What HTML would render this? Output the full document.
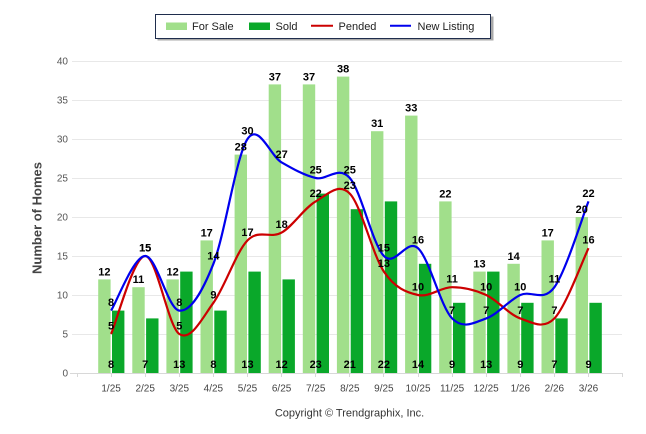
<!DOCTYPE html>
<html><head><meta charset="utf-8"><style>
html,body{margin:0;padding:0;background:#fff;}
svg{display:block;}
text{font-family:"Liberation Sans",Arial,sans-serif;}
.yl{font-size:10px;fill:#555;text-anchor:end;}
.xl{font-size:10px;fill:#444;text-anchor:middle;}
.lb{font-size:11px;font-weight:bold;fill:#000;text-anchor:middle;}
.lg{font-size:11px;fill:#222;}
</style></head><body>
<svg width="646" height="434" viewBox="0 0 646 434" xmlns="http://www.w3.org/2000/svg">
<rect width="646" height="434" fill="#fff"/>
<!-- legend -->
<rect x="157.5" y="16.5" width="336" height="24" fill="#a9a9a9"/>
<rect x="155.5" y="14.5" width="335" height="24" fill="#fff" stroke="#1f2d4d" stroke-width="1"/>
<rect x="166" y="22.5" width="21" height="7.5" fill="#a1df8b"/>
<text class="lg" x="192" y="30">For Sale</text>
<rect x="249" y="22.5" width="21" height="7.5" fill="#0aa82a"/>
<text class="lg" x="275.5" y="30">Sold</text>
<line x1="311" y1="25.8" x2="333" y2="25.8" stroke="#cc0000" stroke-width="2"/>
<text class="lg" x="338.5" y="30">Pended</text>
<line x1="390" y1="25.8" x2="411" y2="25.8" stroke="#0000ee" stroke-width="2"/>
<text class="lg" x="417.5" y="30">New Listing</text>
<!-- gridlines -->
<g stroke="#e8e8e8" stroke-width="1">
<line x1="72" y1="61.5" x2="622" y2="61.5"/>
<line x1="72" y1="100.5" x2="622" y2="100.5"/>
<line x1="72" y1="139.5" x2="622" y2="139.5"/>
<line x1="72" y1="178.5" x2="622" y2="178.5"/>
<line x1="72" y1="217.5" x2="622" y2="217.5"/>
<line x1="72" y1="256.5" x2="622" y2="256.5"/>
<line x1="72" y1="295.5" x2="622" y2="295.5"/>
<line x1="72" y1="334.5" x2="622" y2="334.5"/>
</g>
<line x1="70" y1="373.5" x2="623" y2="373.5" stroke="#d8d8d8" stroke-width="1"/>
<g stroke="#d8d8d8" stroke-width="1">
<line x1="77.5" y1="373" x2="77.5" y2="377"/>
<line x1="111.5" y1="373" x2="111.5" y2="377"/>
<line x1="145.5" y1="373" x2="145.5" y2="377"/>
<line x1="179.5" y1="373" x2="179.5" y2="377"/>
<line x1="213.5" y1="373" x2="213.5" y2="377"/>
<line x1="247.5" y1="373" x2="247.5" y2="377"/>
<line x1="281.5" y1="373" x2="281.5" y2="377"/>
<line x1="315.5" y1="373" x2="315.5" y2="377"/>
<line x1="349.5" y1="373" x2="349.5" y2="377"/>
<line x1="383.5" y1="373" x2="383.5" y2="377"/>
<line x1="418.5" y1="373" x2="418.5" y2="377"/>
<line x1="452.5" y1="373" x2="452.5" y2="377"/>
<line x1="486.5" y1="373" x2="486.5" y2="377"/>
<line x1="520.5" y1="373" x2="520.5" y2="377"/>
<line x1="554.5" y1="373" x2="554.5" y2="377"/>
<line x1="588.5" y1="373" x2="588.5" y2="377"/>
<line x1="622.5" y1="373" x2="622.5" y2="377"/>
</g>
<!-- y labels -->
<text class="yl" x="68" y="64.5">40</text>
<text class="yl" x="68" y="103.5">35</text>
<text class="yl" x="68" y="142.5">30</text>
<text class="yl" x="68" y="181.5">25</text>
<text class="yl" x="68" y="220.5">20</text>
<text class="yl" x="68" y="259.5">15</text>
<text class="yl" x="68" y="298.5">10</text>
<text class="yl" x="68" y="337.5">5</text>
<text class="yl" x="68" y="376.5">0</text>
<text x="41.5" y="218" transform="rotate(-90 41.5 218)" text-anchor="middle" style="font-size:13px;font-weight:bold;fill:#444;">Number of Homes</text>
<!-- For Sale bars -->
<g fill="#a1df8b">
<rect x="98.2" y="279.4" width="12.4" height="93.6"/>
<rect x="132.3" y="287.2" width="12.4" height="85.8"/>
<rect x="166.4" y="279.4" width="12.4" height="93.6"/>
<rect x="200.5" y="240.4" width="12.4" height="132.6"/>
<rect x="234.6" y="154.6" width="12.4" height="218.4"/>
<rect x="268.7" y="84.4" width="12.4" height="288.6"/>
<rect x="302.8" y="84.4" width="12.4" height="288.6"/>
<rect x="336.9" y="76.6" width="12.4" height="296.4"/>
<rect x="371.0" y="131.2" width="12.4" height="241.8"/>
<rect x="405.1" y="115.6" width="12.4" height="257.4"/>
<rect x="439.2" y="201.4" width="12.4" height="171.6"/>
<rect x="473.3" y="271.6" width="12.4" height="101.4"/>
<rect x="507.4" y="263.8" width="12.4" height="109.2"/>
<rect x="541.5" y="240.4" width="12.4" height="132.6"/>
<rect x="575.6" y="217" width="12.4" height="156"/>
</g>
<!-- Sold bars -->
<g fill="#0aa82a">
<rect x="112.0" y="310.6" width="12.4" height="62.4"/>
<rect x="146.1" y="318.4" width="12.4" height="54.6"/>
<rect x="180.2" y="271.6" width="12.4" height="101.4"/>
<rect x="214.3" y="310.6" width="12.4" height="62.4"/>
<rect x="248.4" y="271.6" width="12.4" height="101.4"/>
<rect x="282.5" y="279.4" width="12.4" height="93.6"/>
<rect x="316.6" y="193.6" width="12.4" height="179.4"/>
<rect x="350.7" y="209.2" width="12.4" height="163.8"/>
<rect x="384.8" y="201.4" width="12.4" height="171.6"/>
<rect x="418.9" y="263.8" width="12.4" height="109.2"/>
<rect x="453.0" y="302.8" width="12.4" height="70.2"/>
<rect x="487.1" y="271.6" width="12.4" height="101.4"/>
<rect x="521.2" y="302.8" width="12.4" height="70.2"/>
<rect x="555.3" y="318.4" width="12.4" height="54.6"/>
<rect x="589.4" y="302.8" width="12.4" height="70.2"/>
</g>
<!-- Pended -->
<path fill="none" stroke="#cc0000" stroke-width="2.2" stroke-linejoin="round" d="M111.1 334 C116.78 321 133.83 256 145.2 256 C156.57 256 167.93 326.2 179.3 334 C190.67 341.8 202.03 318.4 213.4 302.8 C224.77 287.2 236.13 252.1 247.5 240.4 C258.87 228.7 270.23 239.1 281.6 232.6 C292.97 226.1 304.33 207.9 315.7 201.4 C327.07 194.9 338.43 181.9 349.8 193.6 C361.17 205.3 372.53 254.7 383.9 271.6 C395.27 288.5 406.63 292.4 418.0 295 C429.37 297.6 440.73 287.2 452.1 287.2 C463.47 287.2 474.83 289.8 486.2 295 C497.57 300.2 508.93 314.5 520.3 318.4 C531.67 322.3 543.03 330.1 554.4 318.4 C565.77 306.7 582.82 259.9 588.5 248.2"/>
<!-- New Listing -->
<path fill="none" stroke="#0000ee" stroke-width="2.2" stroke-linejoin="round" d="M111.1 310.6 C116.78 301.5 133.83 256 145.2 256 C156.57 256 167.93 309.3 179.3 310.6 C190.67 311.9 202.03 292.4 213.4 263.8 C224.77 235.2 236.13 155.9 247.5 139 C258.87 122.1 270.23 155.9 281.6 162.4 C292.97 168.9 304.33 175.4 315.7 178 C327.07 180.6 338.43 165 349.8 178 C361.17 191 372.53 244.3 383.9 256 C395.27 267.7 406.63 237.8 418.0 248.2 C429.37 258.6 440.73 306.7 452.1 318.4 C463.47 330.1 474.83 322.3 486.2 318.4 C497.57 314.5 508.93 300.2 520.3 295 C531.67 289.8 543.03 302.8 554.4 287.2 C565.77 271.6 582.82 215.7 588.5 201.4"/>
<!-- For Sale labels -->
<g class="lb">
<text class="lb" x="104.4" y="275.4">12</text>
<text class="lb" x="138.5" y="283.2">11</text>
<text class="lb" x="172.6" y="275.4">12</text>
<text class="lb" x="206.7" y="236.4">17</text>
<text class="lb" x="240.8" y="150.6">28</text>
<text class="lb" x="274.9" y="80.4">37</text>
<text class="lb" x="309.0" y="80.4">37</text>
<text class="lb" x="343.1" y="72.6">38</text>
<text class="lb" x="377.2" y="127.2">31</text>
<text class="lb" x="411.3" y="111.6">33</text>
<text class="lb" x="445.4" y="197.4">22</text>
<text class="lb" x="479.5" y="267.6">13</text>
<text class="lb" x="513.6" y="259.8">14</text>
<text class="lb" x="547.7" y="236.4">17</text>
<text class="lb" x="581.8" y="213">20</text>
</g>
<!-- Sold labels -->
<g>
<text class="lb" x="111.1" y="368">8</text>
<text class="lb" x="145.2" y="368">7</text>
<text class="lb" x="179.3" y="368">13</text>
<text class="lb" x="213.4" y="368">8</text>
<text class="lb" x="247.5" y="368">13</text>
<text class="lb" x="281.6" y="368">12</text>
<text class="lb" x="315.7" y="368">23</text>
<text class="lb" x="349.8" y="368">21</text>
<text class="lb" x="383.9" y="368">22</text>
<text class="lb" x="418.0" y="368">14</text>
<text class="lb" x="452.1" y="368">9</text>
<text class="lb" x="486.2" y="368">13</text>
<text class="lb" x="520.3" y="368">9</text>
<text class="lb" x="554.4" y="368">7</text>
<text class="lb" x="588.5" y="368">9</text>
</g>
<!-- Pended labels -->
<g>
<text class="lb" x="111.1" y="329.5">5</text>
<text class="lb" x="145.2" y="251.5">15</text>
<text class="lb" x="179.3" y="329.5">5</text>
<text class="lb" x="213.4" y="298.3">9</text>
<text class="lb" x="247.5" y="235.9">17</text>
<text class="lb" x="281.6" y="228.1">18</text>
<text class="lb" x="315.7" y="196.9">22</text>
<text class="lb" x="349.8" y="189.1">23</text>
<text class="lb" x="383.9" y="267.1">13</text>
<text class="lb" x="418.0" y="290.5">10</text>
<text class="lb" x="452.1" y="282.7">11</text>
<text class="lb" x="486.2" y="290.5">10</text>
<text class="lb" x="520.3" y="313.9">7</text>
<text class="lb" x="554.4" y="313.9">7</text>
<text class="lb" x="588.5" y="243.7">16</text>
</g>
<!-- New Listing labels -->
<g>
<text class="lb" x="111.1" y="306.1">8</text>
<text class="lb" x="145.2" y="251.5">15</text>
<text class="lb" x="179.3" y="306.1">8</text>
<text class="lb" x="213.4" y="259.3">14</text>
<text class="lb" x="247.5" y="134.5">30</text>
<text class="lb" x="281.6" y="157.9">27</text>
<text class="lb" x="315.7" y="173.5">25</text>
<text class="lb" x="349.8" y="173.5">25</text>
<text class="lb" x="383.9" y="251.5">15</text>
<text class="lb" x="418.0" y="243.7">16</text>
<text class="lb" x="452.1" y="313.9">7</text>
<text class="lb" x="486.2" y="313.9">7</text>
<text class="lb" x="520.3" y="290.5">10</text>
<text class="lb" x="554.4" y="282.7">11</text>
<text class="lb" x="588.5" y="196.9">22</text>
</g>
<!-- x labels -->
<text class="xl" x="111.1" y="391.5">1/25</text>
<text class="xl" x="145.2" y="391.5">2/25</text>
<text class="xl" x="179.3" y="391.5">3/25</text>
<text class="xl" x="213.4" y="391.5">4/25</text>
<text class="xl" x="247.5" y="391.5">5/25</text>
<text class="xl" x="281.6" y="391.5">6/25</text>
<text class="xl" x="315.7" y="391.5">7/25</text>
<text class="xl" x="349.8" y="391.5">8/25</text>
<text class="xl" x="383.9" y="391.5">9/25</text>
<text class="xl" x="418.0" y="391.5">10/25</text>
<text class="xl" x="452.1" y="391.5">11/25</text>
<text class="xl" x="486.2" y="391.5">12/25</text>
<text class="xl" x="520.3" y="391.5">1/26</text>
<text class="xl" x="554.4" y="391.5">2/26</text>
<text class="xl" x="588.5" y="391.5">3/26</text>
<text x="349.5" y="416.5" text-anchor="middle" style="font-size:11px;fill:#333;">Copyright © Trendgraphix, Inc.</text>
</svg>
</body></html>
